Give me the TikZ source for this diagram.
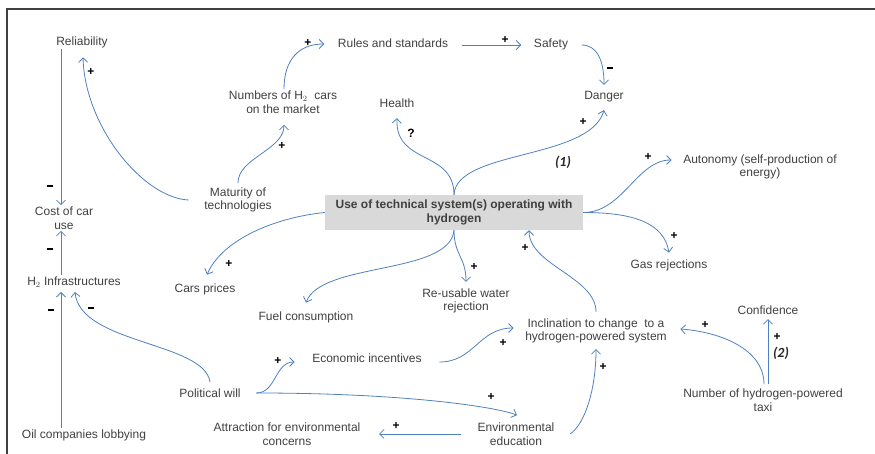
\documentclass[tikz,border=0pt]{standalone}
\usepackage{fontspec}
\setmainfont{Liberation Sans}
\newfontfamily\numfont{Carlito}
\usetikzlibrary{arrows.meta}
\definecolor{linkblue}{HTML}{4F81BD}
\definecolor{txtgray}{HTML}{404040}
\definecolor{boxgray}{HTML}{D9D9D9}
\newcommand{\negsign}{\rule[2.6pt]{5.5pt}{1.9pt}}
\begin{document}
\begin{tikzpicture}[x=1pt,y=-1pt,
    var/.style={text=txtgray, align=center, inner sep=1.5pt, font=\fontsize{12}{13.5}\selectfont},
    sign/.style={text=black, inner sep=0pt, font=\fontsize{12}{13}\selectfont\bfseries},
    loopnum/.style={text=black!85, inner sep=0pt, font=\fontsize{14}{15}\selectfont\numfont\bfseries\itshape},
    link/.style={draw=linkblue, line width=0.8pt, -{Straight Barb[length=4.5pt,width=9pt,line width=0.8pt]}}]
    \useasboundingbox (0,0) rectangle (875,454);
    \draw[txtgray, line width=1.2pt] (7,454) -- (7,9) -- (875,9);

    \node[var] (rel) at (82,42) {Reliability};
    \node[var] (cost) at (64,218) {Cost of car\\use};
    \node[var] (h2) at (74,282) {H$_2$ Infrastructures};
    \node[var] (oil) at (84,435) {Oil companies lobbying};
    \node[var] (mat) at (238,200) {Maturity of\\technologies};
    \node[var] (num) at (283,102) {Numbers of H$_2$ \ cars\\on the market};
    \node[var] (rules) at (393,43) {Rules and standards};
    \node[var] (safety) at (551,44) {Safety};
    \node[var] (danger) at (604,97) {Danger};
    \node[var] (health) at (397,103) {Health};
    \node[var, fill=boxgray, minimum width=258pt, minimum height=35pt,
          font=\fontsize{12}{13.5}\selectfont\bfseries] (use) at (454,212.5)
          {Use of technical system(s) operating with\\hydrogen};
    \node[var] (auto) at (760,167) {Autonomy (self-production of\\energy)};
    \node[var] (gas) at (669,265) {Gas rejections};
    \node[var] (cars) at (205,289) {Cars prices};
    \node[var] (fuel) at (306,317) {Fuel consumption};
    \node[var] (water) at (466,301) {Re-usable water\\rejection};
    \node[var] (incl) at (596,331) {Inclination to change \ to a\\hydrogen-powered system};
    \node[var] (econ) at (367,358) {Economic incentives};
    \node[var] (pol) at (210,393) {Political will};
    \node[var] (attr) at (287,434) {Attraction for environmental\\concerns};
    \node[var] (env) at (516,434) {Environmental\\education};
    \node[var] (conf) at (768,310) {Confidence};
    \node[var] (taxi) at (763,400) {Number of hydrogen-powered\\taxi};

    \node[loopnum] (loop1) at (563,162) {(1)};
    \node[loopnum] (loop2) at (781,353) {(2)};

    \draw[link] ([xshift=-21pt]rel.south) -- ([xshift=-3pt]cost.north);
    \draw[link] ([xshift=-13pt]h2.north) -- ([xshift=-3pt]cost.south);
    \draw[link] ([xshift=-23pt]oil.north) -- ([shift={(-13pt,-3pt)}]h2.south);
    \draw[link] ([yshift=5pt]pol.north) .. controls +(-6,-40) and +(5,52) .. ([shift={(1pt,-3pt)}]h2.south);
    \draw[link] ([xshift=-14pt]mat.west) .. controls +(-45,-2) and +(2,70) .. ([shift={(1pt,-8pt)}]rel.south);
    \draw[link] ([yshift=3pt]mat.north) .. controls +(0,-25) and +(0,25) .. ([shift={(1pt,-10pt)}]num.south);
    \draw[link] ([xshift=1pt]num.north) .. controls +(0,-30) and +(-25,0) .. ([shift={(-12pt,-1pt)}]rules.west);
    \draw[link] ([shift={(12pt,-2pt)}]rules.east) -- ([shift={(-11pt,-1pt)}]safety.west);
    \draw[link] ([shift={(12pt,-1pt)}]safety.east) .. controls +(15,0) and +(0,-25) .. ([yshift=5pt]danger.north);
    \draw[link] (use.north) .. controls +(2,-45) and +(-14,50) .. ([yshift=-6pt]danger.south);
    \draw[link] (use.north) .. controls +(0,-45) and +(-2,47) .. ([yshift=-9pt]health.south);
    \draw[link] (use.east) .. controls +(40,0) and +(-35,0) .. ([shift={(-10pt,7pt)}]auto.west);
    \draw[link] (use.east) .. controls +(50,0) and +(-5,-30) .. ([yshift=5pt]gas.north);
    \draw[link] (use.west) .. controls +(-50,5) and +(15,-35) .. ([shift={(2pt,7pt)}]cars.north);
    \draw[link] (use.south) .. controls +(-4,45) and +(15,-41) .. ([yshift=7pt]fuel.north);
    \draw[link] (use.south) .. controls +(0,25) and +(0,-25) .. ([yshift=5pt]water.north);
    \draw[link] ([yshift=5pt]incl.north) .. controls +(0,-35) and +(0,35) .. ([xshift=75pt]use.south);
    \draw[link] ([shift={(16pt,-4pt)}]econ.east) .. controls +(35,0) and +(-35,0) .. ([shift={(-10pt,3pt)}]incl.west);
    \draw[link] ([xshift=14pt]pol.east) .. controls +(20,0) and +(-20,0) .. ([shift={(-16pt,-4pt)}]econ.west);
    \draw[link] ([xshift=14pt]pol.east) .. controls +(150,0) and +(-20,-8) .. ([shift={(1pt,6pt)}]env.north);
    \draw[link] ([xshift=-15pt]env.west) -- ([xshift=17pt]attr.east);
    \draw[link] ([xshift=14pt]env.east) .. controls +(15,-10) and +(0,40) .. ([yshift=-4pt]incl.south);
    \draw[link] ([shift={(1pt,3pt)}]taxi.north) .. controls +(0,-35) and +(40,3) .. ([shift={(12pt,2pt)}]incl.east);
    \draw[link] ([shift={(5pt,3pt)}]taxi.north) -- ([yshift=-3pt]conf.south);

    \foreach \x/\y/\s [count=\i] in {50/187/\negsign, 91/72/+, 282/146/+, 308/43/+, 505/40/+,
        610/69/\negsign, 583/122/+, 411/133/?, 648/157/+, 674/236/+, 229/264/+, 474/267/+,
        525/248/+, 503/343/+, 278/361/+, 491/397/+, 396/426/+, 603/367/+, 705/325/+,
        777/337/+, 50/250/\negsign, 51/311/\negsign, 91/309/\negsign}
        \node[sign] (sg\i) at (\x,\y) {\s};
\end{tikzpicture}
\end{document}
